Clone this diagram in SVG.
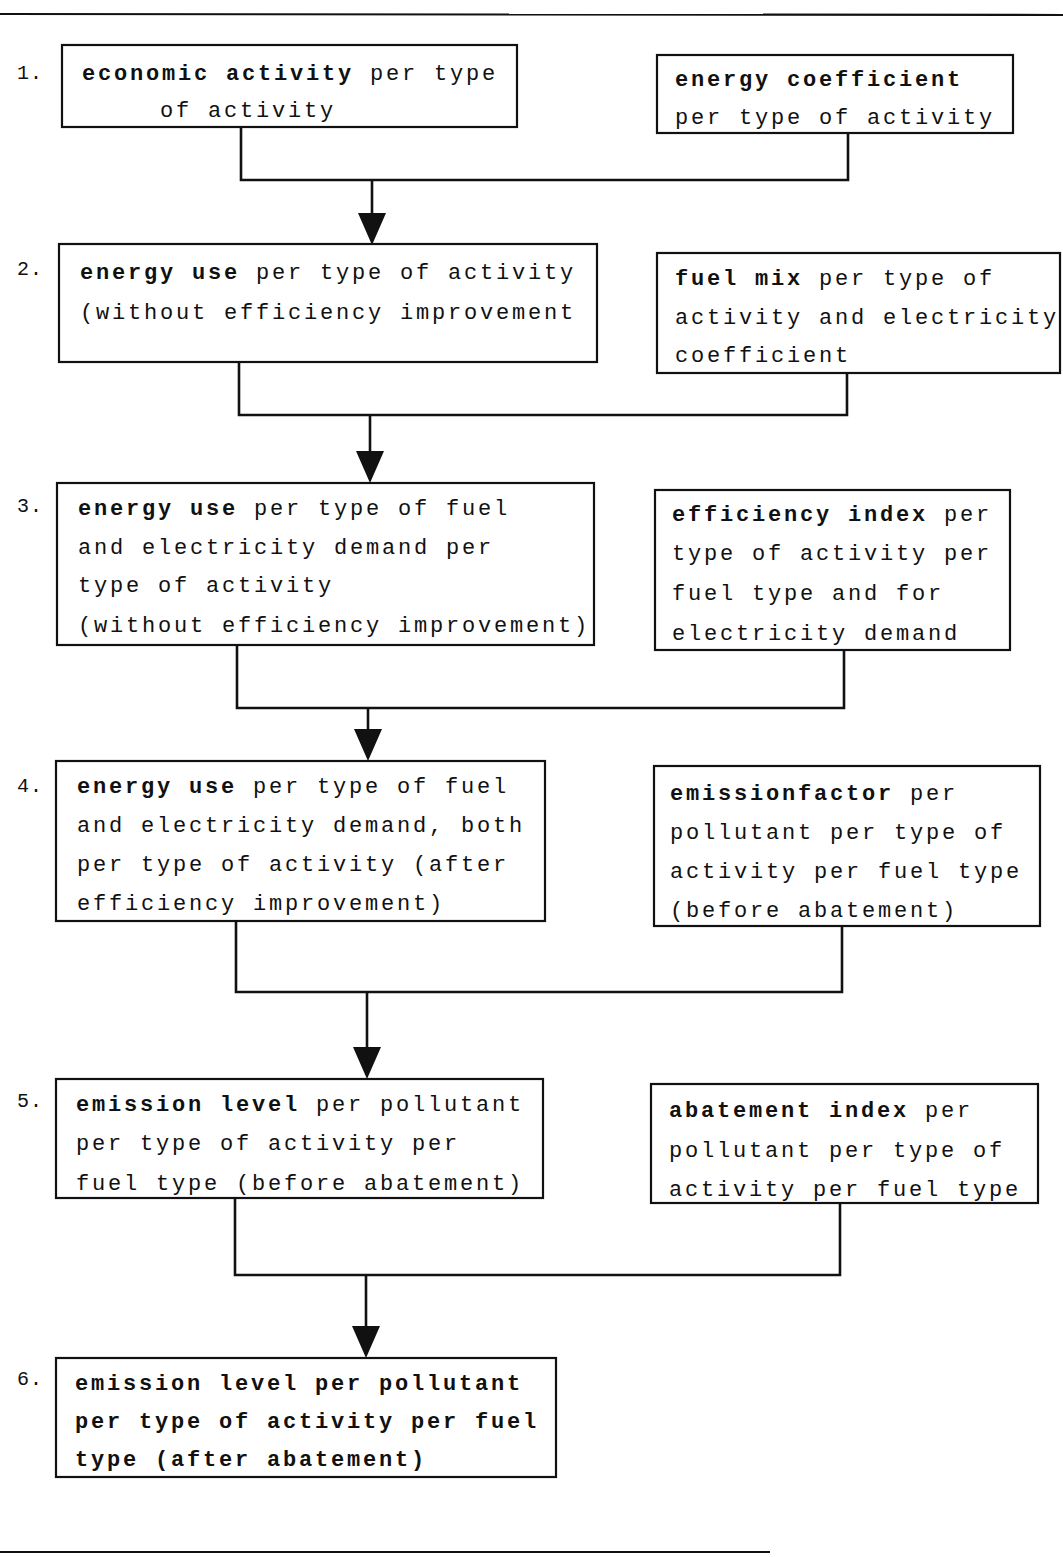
<svg xmlns="http://www.w3.org/2000/svg" width="1063" height="1557" viewBox="0 0 1063 1557">
<style>
  .box { fill: #fff; stroke: #111; stroke-width: 2.2; }
  .rule { stroke: #111; stroke-width: 2.2; fill: none; }
  .conn { stroke: #111; stroke-width: 2.6; fill: none; }
  text { font-family: "Liberation Mono", "DejaVu Sans Mono", monospace; font-size: 22px; letter-spacing: 2.8px; fill: #111; }
  .b { font-weight: bold; }
  .num { font-size: 20px; letter-spacing: 1px; }
</style>
<defs>
  <marker id="arrow" viewBox="0 0 32 28" refX="28" refY="14" markerWidth="32" markerHeight="28" markerUnits="userSpaceOnUse" orient="auto">
    <path d="M0,0 L32,14 L0,28 z" fill="#111"/>
  </marker>
</defs>
<rect width="1063" height="1557" fill="#fff"/>
<line class="rule" x1="0" y1="14" x2="1063" y2="15"/>
<line class="rule" x1="0" y1="1552" x2="770" y2="1552"/>

<g id="connectors">
  <path class="conn" d="M241,127 V180 H848 V133"/>
  <path class="conn" d="M372,180 V241" marker-end="url(#arrow)"/>
  <path class="conn" d="M239,362 V415 H847 V373"/>
  <path class="conn" d="M370,415 V479" marker-end="url(#arrow)"/>
  <path class="conn" d="M237,645 V708 H844 V650"/>
  <path class="conn" d="M368,708 V757" marker-end="url(#arrow)"/>
  <path class="conn" d="M236,921 V992 H842 V926"/>
  <path class="conn" d="M367,992 V1075" marker-end="url(#arrow)"/>
  <path class="conn" d="M235,1198 V1275 H840 V1203"/>
  <path class="conn" d="M366,1275 V1354" marker-end="url(#arrow)"/>
</g>

<g id="node1">
  <text class="num" x="17" y="79">1.</text>
  <rect class="box" x="62" y="45" width="455" height="82"/>
  <text x="82" y="80"><tspan class="b">economic activity</tspan> per type</text>
  <text x="160" y="117">of activity</text>
</g>
<g id="node-energy-coefficient">
  <rect class="box" x="657" y="55" width="356" height="78"/>
  <text x="675" y="86" class="b">energy coefficient</text>
  <text x="675" y="124">per type of activity</text>
</g>

<g id="node2">
  <text class="num" x="17" y="275">2.</text>
  <rect class="box" x="59" y="244" width="538" height="118"/>
  <text x="80" y="279"><tspan class="b">energy use</tspan> per type of activity</text>
  <text x="80" y="319">(without efficiency improvement</text>
</g>
<g id="node-fuel-mix">
  <rect class="box" x="657" y="253" width="403" height="120"/>
  <text x="675" y="285"><tspan class="b">fuel mix</tspan> per type of</text>
  <text x="675" y="324">activity and electricity</text>
  <text x="675" y="362">coefficient</text>
</g>

<g id="node3">
  <text class="num" x="17" y="512">3.</text>
  <rect class="box" x="57" y="483" width="537" height="162"/>
  <text x="78" y="515"><tspan class="b">energy use</tspan> per type of fuel</text>
  <text x="78" y="554">and electricity demand per</text>
  <text x="78" y="592">type of activity</text>
  <text x="78" y="632">(without efficiency improvement)</text>
</g>
<g id="node-efficiency-index">
  <rect class="box" x="655" y="490" width="355" height="160"/>
  <text x="672" y="521"><tspan class="b">efficiency index</tspan> per</text>
  <text x="672" y="560">type of activity per</text>
  <text x="672" y="600">fuel type and for</text>
  <text x="672" y="640">electricity demand</text>
</g>

<g id="node4">
  <text class="num" x="17" y="792">4.</text>
  <rect class="box" x="56" y="761" width="489" height="160"/>
  <text x="77" y="793"><tspan class="b">energy use</tspan> per type of fuel</text>
  <text x="77" y="832">and electricity demand, both</text>
  <text x="77" y="871">per type of activity (after</text>
  <text x="77" y="910">efficiency improvement)</text>
</g>
<g id="node-emissionfactor">
  <rect class="box" x="654" y="766" width="386" height="160"/>
  <text x="670" y="800"><tspan class="b">emissionfactor</tspan> per</text>
  <text x="670" y="839">pollutant per type of</text>
  <text x="670" y="878">activity per fuel type</text>
  <text x="670" y="917">(before abatement)</text>
</g>

<g id="node5">
  <text class="num" x="17" y="1107">5.</text>
  <rect class="box" x="56" y="1079" width="487" height="119"/>
  <text x="76" y="1111"><tspan class="b">emission level</tspan> per pollutant</text>
  <text x="76" y="1150">per type of activity per</text>
  <text x="76" y="1190">fuel type (before abatement)</text>
</g>
<g id="node-abatement-index">
  <rect class="box" x="651" y="1084" width="387" height="119"/>
  <text x="669" y="1117"><tspan class="b">abatement index</tspan> per</text>
  <text x="669" y="1157">pollutant per type of</text>
  <text x="669" y="1196">activity per fuel type</text>
</g>

<g id="node6">
  <text class="num" x="17" y="1385">6.</text>
  <rect class="box" x="56" y="1358" width="500" height="119"/>
  <text x="75" y="1390" class="b">emission level per pollutant</text>
  <text x="75" y="1428" class="b">per type of activity per fuel</text>
  <text x="75" y="1466" class="b">type (after abatement)</text>
</g>
</svg>
